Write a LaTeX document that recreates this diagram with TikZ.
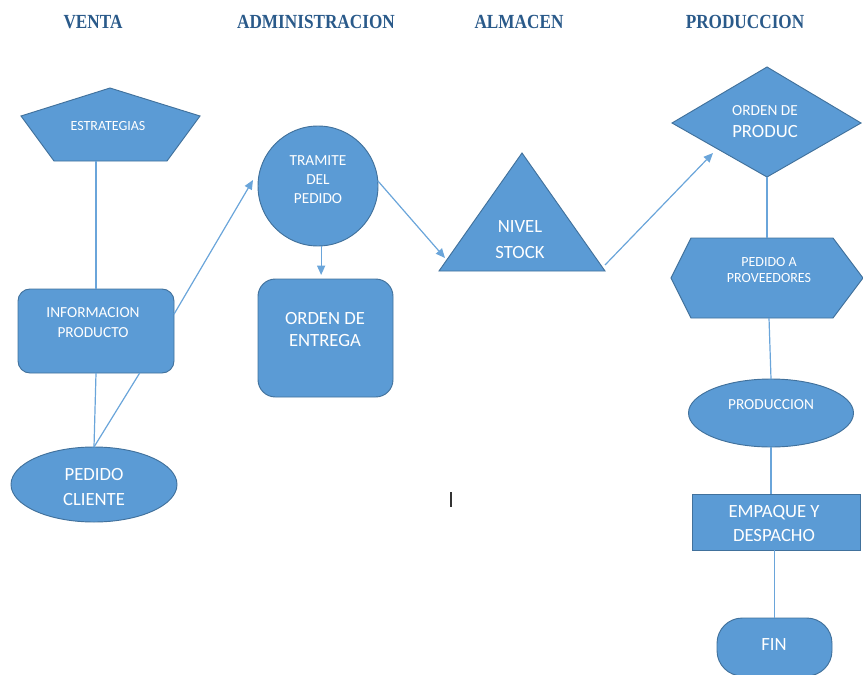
\documentclass[tikz,border=0pt]{standalone}
\usepackage{fontspec}
\setmainfont{Carlito}
\newfontfamily\titlefont{Liberation Serif}
\usetikzlibrary{shapes.geometric,arrows.meta,calc}
\definecolor{boxfill}{HTML}{5B9BD5}
\definecolor{boxline}{HTML}{41719C}
\definecolor{linec}{HTML}{6AA5DA}
\definecolor{titlec}{HTML}{2A5A8A}
\newcommand{\ttltext}[1]{\scalebox{0.86}[1]{#1}}
\begin{document}
\begin{tikzpicture}[x=0.75pt,y=-0.75pt,
  shapebox/.style={fill=boxfill,draw=boxline,line width=0.7pt,inner sep=0pt,outer sep=0pt},
  smalltxt/.style={text=white,font=\fontsize{11.5}{14}\selectfont,align=center,inner sep=0pt},
  bigtxt/.style={text=white,font=\fontsize{14}{16.5}\selectfont,align=center,inner sep=0pt},
  conn/.style={draw=linec,line width=0.9pt},
  arr/.style={conn,-{Triangle[length=7pt,width=6pt]}},
  ttl/.style={text=titlec,font=\titlefont\bfseries\fontsize{15}{17}\selectfont,inner sep=0pt}]
\useasboundingbox (0,0) rectangle (863,674);

% titles
\node[ttl] (tv) at (93,22) {\ttltext{VENTA}};
\node[ttl] (ta) at (316,22) {\ttltext{ADMINISTRACION}};
\node[ttl] (tal) at (519,22) {\ttltext{ALMACEN}};
\node[ttl] (tp) at (745,22) {\ttltext{PRODUCCION}};

% VENTA column
\draw[shapebox] (110,88) -- (200,116) -- (167,161) -- (54,161) -- (21,116) -- cycle;
\node[smalltxt,font=\fontsize{10.5}{12}\selectfont] (estr) at (108,126) {ESTRATEGIAS};
\coordinate (estrB) at (96,161);

\node[shapebox,rounded corners=9pt,minimum width=117pt,minimum height=63pt] (info) at (96,331) {};
\node[smalltxt,font=\fontsize{11.5}{15}\selectfont] (infoT) at (93,323) {INFORMACION\\PRODUCTO};

\node[shapebox,ellipse,minimum width=124.5pt,minimum height=56.25pt] (pc) at (94,484.5) {};
\node[bigtxt,font=\fontsize{14}{18}\selectfont] (pcT) at (94,487) {PEDIDO\\CLIENTE};

% ADMINISTRACION column
\node[shapebox,circle,minimum size=90pt] (tram) at (318,186) {};
\node[smalltxt] (tramT) at (318,179.5) {TRAMITE\\DEL\\PEDIDO};

\node[shapebox,rounded corners=13pt,minimum width=101.25pt,minimum height=88.5pt] (oe) at (325.5,338) {};
\node[bigtxt] (oeT) at (325,330) {ORDEN DE\\ENTREGA};

% ALMACEN column
\draw[shapebox] (522,153) -- (605,271) -- (439,271) -- cycle;
\node[bigtxt,font=\fontsize{14}{19.5}\selectfont] (nivT) at (520,240) {NIVEL\\STOCK};
\coordinate (nivL) at (445,258);
\coordinate (nivR) at (605,265);

% PRODUCCION column
\draw[shapebox] (767,67) -- (861,123) -- (767,177) -- (672,123) -- cycle;
\node[smalltxt] (odpT1) at (765,111) {ORDEN DE};
\node[bigtxt] (odpT2) at (765,132) {PRODUC};
\coordinate (odpL) at (713,153);
\coordinate (odpB) at (767,177);

\draw[shapebox] (691,238) -- (833,238) -- (863,278) -- (833,318) -- (691,318) -- (671,278) -- cycle;
\node[smalltxt,font=\fontsize{10.5}{12}\selectfont] (provT) at (769,270) {PEDIDO A\\PROVEEDORES};
\coordinate (provTop) at (767,238);
\coordinate (provB) at (769,318);

\node[shapebox,ellipse,minimum width=123.75pt,minimum height=51pt] (prod) at (771,413) {};
\node[smalltxt] (prodT) at (771,405) {PRODUCCION};

\node[shapebox,minimum width=126pt,minimum height=42pt] (emp) at (776,522) {};
\node[bigtxt,font=\fontsize{14}{17.5}\selectfont] (empT) at (774,523.5) {EMPAQUE Y\\DESPACHO};

\node[shapebox,rounded corners=19pt,minimum width=86.25pt,minimum height=43.5pt] (fin) at (774.5,647) {};
\node[bigtxt] (finT) at (774,645) {FIN};

% connectors
\draw[conn] (estrB) -- (info.north);
\draw[conn] (info.south) -- (pc.north);
\draw[conn] ($(info.south west)!0.78!(info.south east)$) -- (pc.north);
\draw[arr] ($(info.north east)!0.3!(info.south east)$) -- (253,180);
\draw[arr,shorten >=3pt] (tram.-87) -- (tram.-87 |- oe.north);
\draw[arr] (tram.5) -- (nivL);
\draw[arr] (nivR) -- (odpL);
\draw[conn] (odpB) -- (provTop);
\draw[conn] (provB) -- (prod.north);
\draw[conn] (prod.south) -- (prod.south |- emp.north);
\draw[conn] (emp.south -| fin.north) -- (fin.north);

% stray text cursor mark
\draw[line width=1.4pt,black!80] (451,492) -- (451,507);
\end{tikzpicture}
\end{document}
